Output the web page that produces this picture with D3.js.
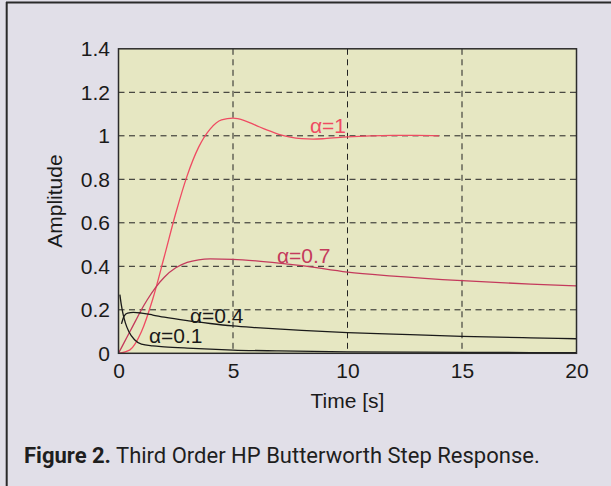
<!DOCTYPE html>
<html>
<head>
    <meta charset="utf-8">
    <title>Step Response</title>
    <script type="text/javascript" src="https://cdn.jsdelivr.net/npm/d3@7"></script>
    <style>
        body { margin: 0; background: #e1dfe8; }
        svg { display: block; }
        text { font-family: "Liberation Sans", Arial, sans-serif; }
        .grid line { stroke: #222; stroke-width: 1; stroke-dasharray: 6,4.5; }
        .caption { font-family: Roboto, "Noto Sans", sans-serif; fill: #1e1e1e; }
    </style>
</head>
<body>
<script type="text/javascript">
// values
var xTicks = [0, 5, 10, 15, 20];
var yTicks = [0, 0.2, 0.4, 0.6, 0.8, 1, 1.2, 1.4];
var yTickLabels = ["0", "0.2", "0.4", "0.6", "0.8", "1", "1.2", "1.4"];

var tA1 = [0, 0.5, 1, 1.5, 2, 2.5, 3, 3.5, 4, 4.5, 5, 5.5, 6, 6.5, 7, 7.5, 8, 8.5, 9, 10, 11, 12, 13, 14];
var vA1 = [0, 0.016, 0.099, 0.251, 0.445, 0.644, 0.817, 0.948, 1.031, 1.073, 1.081, 1.07, 1.048, 1.026, 1.007, 0.994, 0.987, 0.985, 0.987, 0.995, 1.0, 1.002, 1.002, 1.0];

var tA07 = [0, 0.25, 0.5, 0.75, 1, 1.25, 1.6, 2, 2.5, 3, 3.5, 4, 5, 6, 7, 8, 10, 12, 15, 18, 20];
var vA07 = [0, 0.05, 0.1, 0.15, 0.2, 0.245, 0.3, 0.35, 0.393, 0.418, 0.43, 0.434, 0.432, 0.425, 0.415, 0.403, 0.373, 0.355, 0.334, 0.318, 0.31];

var tA04 = [0.13, 0.25, 0.4, 0.65, 1, 1.5, 2, 3, 4, 5, 6, 8, 10, 12, 15, 18, 20];
var vA04 = [0.135, 0.172, 0.185, 0.188, 0.185, 0.176, 0.166, 0.15, 0.137, 0.126, 0.118, 0.105, 0.095, 0.088, 0.078, 0.071, 0.067];

var tA01 = [0.06, 0.12, 0.2, 0.3, 0.45, 0.7, 1, 1.5, 2, 3, 4, 5, 7, 10, 13, 16, 20];
var vA01 = [0.27, 0.225, 0.18, 0.14, 0.1, 0.062, 0.042, 0.034, 0.03, 0.024, 0.019, 0.015, 0.011, 0.007, 0.005, 0.004, 0.003];

var seriesNames = ["α=1", "α=0.7", "α=0.4", "α=0.1"];
var seriesColors = ["#ef4b62", "#c43a5c", "#1a1a1a", "#1a1a1a"];
var labelPos = [[8.36, 1.013], [6.92, 0.415], [3.12, 0.139], [1.33, 0.047]];

var series = [
    {name: seriesNames[0], t: tA1, v: vA1},
    {name: seriesNames[1], t: tA07, v: vA07},
    {name: seriesNames[2], t: tA04, v: vA04},
    {name: seriesNames[3], t: tA01, v: vA01}
];

var width = 611, height = 486;
var plot = {left: 118.5, right: 576.5, top: 48.8, bottom: 353.3};

var svg = d3.select("body").append("svg")
        .attr("width", width)
        .attr("height", height);

// figure frame
svg.append("line").attr("x1", 6.7).attr("x2", 6.7).attr("y1", 2).attr("y2", height)
        .attr("stroke", "#2a2a2a").attr("stroke-width", 2);
svg.append("line").attr("x1", 6).attr("x2", width).attr("y1", 2.6).attr("y2", 2.6)
        .attr("stroke", "#2a2a2a").attr("stroke-width", 2);

var x = d3.scaleLinear().domain([0, 20]).range([plot.left, plot.right]);
var y = d3.scaleLinear().domain([0, 1.4]).range([plot.bottom, plot.top]);

svg.append("rect")
        .attr("x", plot.left).attr("y", plot.top)
        .attr("width", plot.right - plot.left).attr("height", plot.bottom - plot.top)
        .attr("fill", "#e6e7c2");

// grid
var grid = svg.append("g").attr("class", "grid");
grid.selectAll("line.h").data(yTicks.slice(1, -1)).enter().append("line")
        .attr("class", "h")
        .attr("x1", plot.left).attr("x2", plot.right)
        .attr("y1", function (d) { return y(d); })
        .attr("y2", function (d) { return y(d); });
grid.selectAll("line.v").data(xTicks.slice(1, -1)).enter().append("line")
        .attr("class", "v")
        .attr("y1", plot.top).attr("y2", plot.bottom)
        .attr("x1", function (d) { return x(d); })
        .attr("x2", function (d) { return x(d); });

// curves
var line = d3.line()
        .curve(d3.curveMonotoneX)
        .x(function (d) { return x(d[0]); })
        .y(function (d) { return y(d[1]); });

svg.append("g").selectAll("path").data(series).enter().append("path")
        .attr("fill", "none")
        .attr("stroke", function (d, i) { return seriesColors[i]; })
        .attr("stroke-width", 1.3)
        .attr("d", function (d) {
            return line(d.t.map(function (t, i) { return [t, d.v[i]]; }));
        });

svg.append("g").selectAll("text").data(series).enter().append("text")
        .attr("x", function (d, i) { return x(labelPos[i][0]); })
        .attr("y", function (d, i) { return y(labelPos[i][1]); })
        .attr("fill", function (d, i) { return seriesColors[i]; })
        .attr("font-size", 21)
        .text(function (d) { return d.name; });

// box
svg.append("rect")
        .attr("x", plot.left).attr("y", plot.top)
        .attr("width", plot.right - plot.left).attr("height", plot.bottom - plot.top)
        .attr("fill", "none").attr("stroke", "#2b2b2b").attr("stroke-width", 1.5);

// axes
var xAxis = d3.axisBottom(x).tickValues(xTicks).tickSize(0).tickPadding(10);
var yAxis = d3.axisLeft(y).tickValues(yTicks).tickSize(0).tickPadding(8.5)
        .tickFormat(function (d, i) { return yTickLabels[i]; });

var gx = svg.append("g").attr("transform", "translate(0," + plot.bottom + ")").call(xAxis);
var gy = svg.append("g").attr("transform", "translate(" + plot.left + ",0)").call(yAxis);
[gx, gy].forEach(function (g) {
    g.select(".domain").remove();
    g.attr("font-size", null).attr("font-family", null);
    g.selectAll("text").attr("font-size", 21).attr("fill", "#1a1a1a");
});

svg.append("text")
        .attr("x", (plot.left + plot.right) / 2).attr("y", 408)
        .attr("text-anchor", "middle").attr("font-size", 21).attr("fill", "#1a1a1a")
        .text("Time [s]");

svg.append("text")
        .attr("transform", "translate(62," + ((plot.top + plot.bottom) / 2) + ") rotate(-90)")
        .attr("text-anchor", "middle").attr("font-size", 21).attr("fill", "#1a1a1a")
        .text("Amplitude");

// caption
var cap = svg.append("text").attr("class", "caption")
        .attr("x", 24).attr("y", 463).attr("font-size", 22);
cap.append("tspan").attr("font-weight", "bold").text("Figure 2.");
cap.append("tspan").text(" Third Order HP Butterworth Step Response.");
</script>
</body>
</html>
